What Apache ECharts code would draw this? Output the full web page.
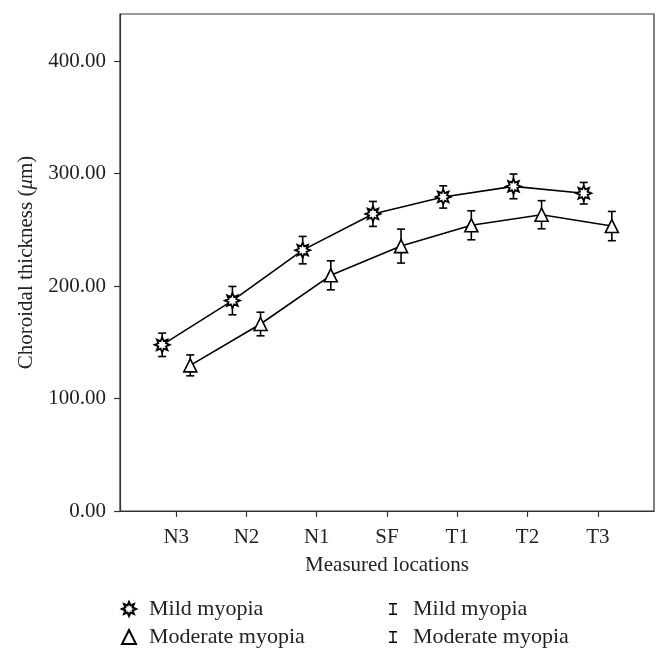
<!DOCTYPE html>
<html>
<head>
<meta charset="utf-8">
<script src="https://cdn.jsdelivr.net/npm/echarts@6/dist/echarts.min.js"></script>
<style>html,body{margin:0;padding:0;background:#fff;}#c{width:669px;height:662px;}</style>
</head>
<body>
<div id="c"></div>
<script>
const categories = ['N3','N2','N1','SF','T1','T2','T3'];
const mildMean = [147.8,187.1,232.0,264.2,279.3,288.7,282.6];
const mildSD = [10.4,12.6,12.2,11.1,9.9,11.0,9.6];
const modMean = [129.5,166.3,209.6,235.6,254.1,263.5,253.4];
const modSD = [9.3,10.5,12.9,15.1,12.9,12.5,13.0];
const yTicks = [0,100,200,300,400];
const seriesNames = ['Mild myopia','Moderate myopia'];

const OFF = 0.2;
const FONT = 'Liberation Serif';
const FS = 21;
const LFS = 22;

function starPath(n, r1, r2){
  let d = '';
  for (let i = 0; i < 2*n; i++){
    const r = i % 2 === 0 ? r1 : r2;
    const a = Math.PI * i / n - Math.PI/2;
    d += (i === 0 ? 'M' : 'L') + (r*Math.cos(a)).toFixed(3) + ',' + (r*Math.sin(a)).toFixed(3);
  }
  return 'path://' + d + 'Z';
}
const STAR = starPath(8, 10, 5.5);
const IBEAM = 'path://M0,0H8V1.4H4.7V10.6H8V12H0V10.6H3.3V1.4H0Z';

const mildPts = mildMean.map((v,i)=>[i-OFF, v]);
const modPts = modMean.map((v,i)=>[i+OFF, v]);
const mildErr = mildMean.map((v,i)=>[i-OFF, v-mildSD[i], v+mildSD[i]]);
const modErr = modMean.map((v,i)=>[i+OFF, v-modSD[i], v+modSD[i]]);

function errRender(params, api){
  const x = api.value(0);
  const lo = api.coord([x, api.value(1)]);
  const hi = api.coord([x, api.value(2)]);
  const w = 4;
  const st = {stroke:'#000', lineWidth:1.6};
  return {type:'group', children:[
    {type:'line', shape:{x1:lo[0],y1:lo[1],x2:hi[0],y2:hi[1]}, style:st},
    {type:'line', shape:{x1:lo[0]-w,y1:lo[1],x2:lo[0]+w,y2:lo[1]}, style:st},
    {type:'line', shape:{x1:hi[0]-w,y1:hi[1],x2:hi[0]+w,y2:hi[1]}, style:st}
  ]};
}

const chart = echarts.init(document.getElementById('c'), null, {renderer:'canvas'});
const ticksX = categories.map((c,i)=>i);
chart.setOption({
  animation:false,
  backgroundColor:'#fff',
  grid:{left:120, right:15, top:14, bottom:151, show:true, borderColor:'#333', borderWidth:1.2, backgroundColor:'transparent'},
  xAxis:{
    type:'value', min:-0.8, max:6.8,
    name:'Measured locations', nameLocation:'middle', nameGap:44,
    nameTextStyle:{fontFamily:FONT, fontSize:FS, color:'#222'},
    axisLine:{show:true, onZero:false, lineStyle:{color:'#333', width:1.2}},
    axisTick:{show:true, length:6, customValues:ticksX, lineStyle:{color:'#333', width:1.2}},
    axisLabel:{customValues:ticksX, formatter:(v)=>categories[Math.round(v)] || '', fontFamily:FONT, fontSize:FS, color:'#222', margin:16},
    splitLine:{show:false}
  },
  yAxis:{
    type:'value', min:0, max:442,
    name:'Choroidal thickness ({i|μ}m)', nameLocation:'middle', nameGap:81,
    nameTextStyle:{fontFamily:FONT, fontSize:FS, color:'#222', rich:{i:{fontFamily:FONT, fontSize:FS, fontStyle:'italic', color:'#222'}}},
    axisLine:{show:true, onZero:false, lineStyle:{color:'#333', width:1.2}},
    axisTick:{show:true, length:6, customValues:yTicks, lineStyle:{color:'#333', width:1.2}},
    axisLabel:{customValues:yTicks, formatter:(v)=>v.toFixed(2), fontFamily:FONT, fontSize:FS, color:'#222', margin:14},
    splitLine:{show:false}
  },
  legend:[
    {orient:'vertical', left:121, top:598, padding:0, itemGap:6, itemWidth:14, itemHeight:14,
     textStyle:{fontFamily:FONT, fontSize:LFS, color:'#222', padding:[0,0,0,8]},
     selectedMode:false,
     data:[
       {name:seriesNames[0], icon:STAR, itemStyle:{color:'#fff', borderColor:'#000', borderWidth:2}},
       {name:seriesNames[1], icon:'triangle', itemStyle:{color:'#fff', borderColor:'#000', borderWidth:2}}
     ]},
    {orient:'vertical', left:389, top:598, padding:0, itemGap:6, itemWidth:8, itemHeight:12,
     textStyle:{fontFamily:FONT, fontSize:LFS, color:'#222', padding:[0,0,0,11]},
     selectedMode:false,
     data:[
       {name:seriesNames[0], icon:IBEAM, itemStyle:{color:'#000', borderWidth:0}},
       {name:seriesNames[1], icon:IBEAM, itemStyle:{color:'#000', borderWidth:0}}
     ]}
  ],
  series:[
    {name:seriesNames[0]+' err', type:'custom', renderItem:errRender, data:mildErr, z:3, silent:true},
    {name:seriesNames[1]+' err', type:'custom', renderItem:errRender, data:modErr, z:3, silent:true},
    {name:seriesNames[0], type:'line', data:mildPts, symbol:STAR, symbolSize:15, z:4,
     lineStyle:{color:'#000', width:1.6}, itemStyle:{color:'#fff', borderColor:'#000', borderWidth:1.8}},
    {name:seriesNames[1], type:'line', data:modPts, symbol:'triangle', symbolSize:[13,13], z:4,
     lineStyle:{color:'#000', width:1.6}, itemStyle:{color:'#fff', borderColor:'#000', borderWidth:1.6}}
  ]
});
</script>
</body>
</html>
